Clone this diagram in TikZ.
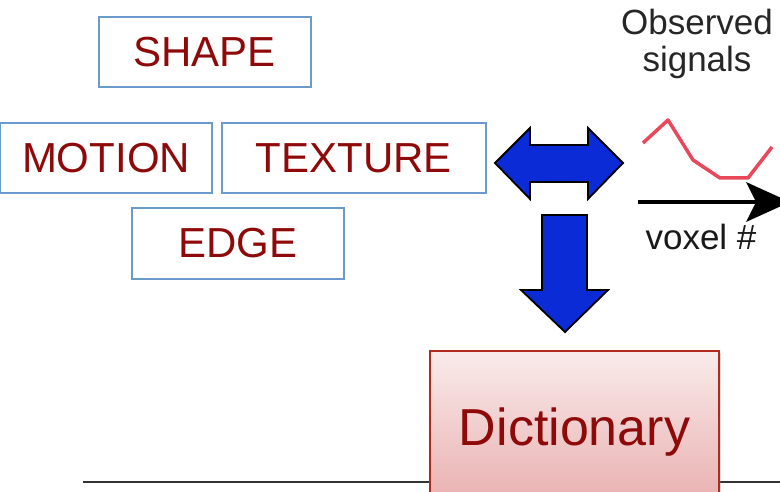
\documentclass[tikz,border=0pt]{standalone}
\usepackage{fontspec}
\setmainfont{Liberation Sans}
\usetikzlibrary{shadows}
\definecolor{boxblue}{HTML}{6A9BCB}
\definecolor{txtred}{HTML}{8E0A0A}
\definecolor{arrblue}{HTML}{0A2BD6}
\definecolor{sigred}{HTML}{E8485A}
\definecolor{dictborder}{HTML}{B02A1E}
\begin{document}
\begin{tikzpicture}[x=1pt,y=-1pt,
  featbox/.style={draw=boxblue,line width=2pt,minimum width=212pt,minimum height=70pt,
    inner sep=0pt,text=txtred,font=\fontsize{42}{42}\selectfont},
  bigarrow/.style={draw=black,line width=1.8pt,fill=arrblue,line join=miter},
  plain/.style={font=\fontsize{35}{37}\selectfont,text=black!85,align=center,inner sep=0pt}]
\useasboundingbox (0,0) rectangle (780,492);
% feature boxes
\node[featbox] (shape) at (204.5,52.5) {SHAPE};
\node[featbox] (motion) at (106,158.5) {MOTION};
\node[featbox,minimum width=264pt] (texture) at (354,158.5) {TEXTURE};
\node[featbox] (edge) at (238,243.5) {EDGE};
% double arrow
\draw[bigarrow] (495,163) -- (530,128) -- (530,145) -- (588,145) -- (588,128) -- (623,163)
  -- (588,199) -- (588,182) -- (530,182) -- (530,199) -- cycle;
% down arrow
\draw[bigarrow] (542,215) -- (587,215) -- (587,290) -- (608,290) -- (565,332) -- (521,290) -- (542,290) -- cycle;
% observed signals
\node[plain,anchor=base] (obs) at (697,72) {Observed\\signals};
\draw[sigred,line width=3.5pt,line join=round] (643,143) -- (668,120) -- (693,160) -- (720,178) -- (748,178) -- (772,147);
\coordinate (axstart) at (638,202);
\coordinate (axend) at (760,202);
\draw[black,line width=4pt] (axstart) -- (axend);
\fill[black] (746,182) -- (790,202) -- (746,222) -- (756,202) -- cycle;
\node[plain,anchor=base,text=black!90] (voxel) at (701,250) {voxel \#};
% baseline
\coordinate (lineA) at (83,482);
\coordinate (lineB) at (780,482);
\draw[black!80,line width=2pt] (lineA) -- (lineB);
% dictionary
\path[drop shadow={shadow xshift=2pt,shadow yshift=-2pt,opacity=0.3},draw=dictborder,line width=1.8pt,
  top color={rgb,255:red,249;green,235;blue,235},bottom color={rgb,255:red,233;green,175;blue,175}]
  (430,351) rectangle (719,505);
\node[text=txtred,font=\fontsize{52}{52}\selectfont,anchor=base] (dict) at (574.5,445) {Dictionary};
\end{tikzpicture}
\end{document}
